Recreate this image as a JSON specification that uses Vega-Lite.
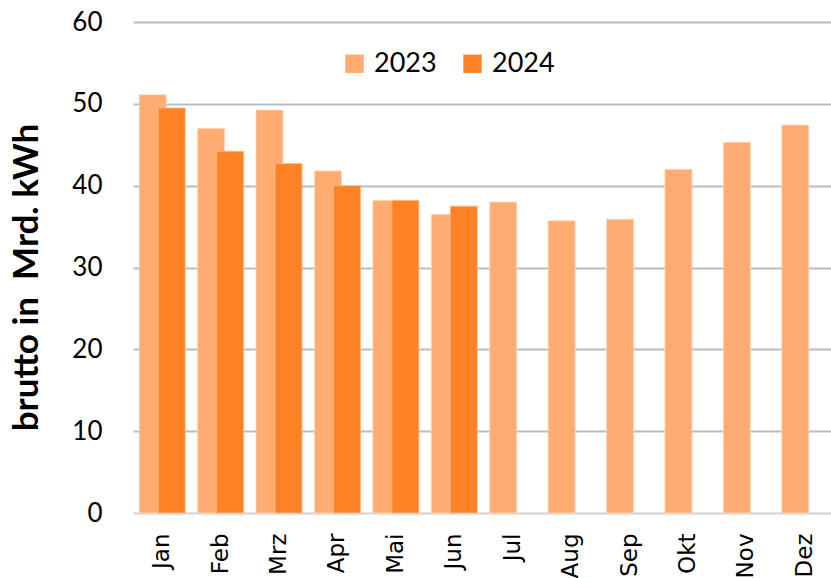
{
  "$schema": "https://vega.github.io/schema/vega-lite/v6.json",
  "width": 701,
  "height": 491,
  "autosize": {"type": "none"},
  "padding": {"left": 133, "top": 22, "right": 0, "bottom": 65},
  "background": "white",
  "data": {
    "values": [
      {"Monat": "Jan", "Jahr": "2023", "Wert": 51.1},
      {"Monat": "Feb", "Jahr": "2023", "Wert": 47.0},
      {"Monat": "Mrz", "Jahr": "2023", "Wert": 49.25},
      {"Monat": "Apr", "Jahr": "2023", "Wert": 41.8},
      {"Monat": "Mai", "Jahr": "2023", "Wert": 38.2},
      {"Monat": "Jun", "Jahr": "2023", "Wert": 36.5},
      {"Monat": "Jul", "Jahr": "2023", "Wert": 38.0},
      {"Monat": "Aug", "Jahr": "2023", "Wert": 35.7},
      {"Monat": "Sep", "Jahr": "2023", "Wert": 35.9},
      {"Monat": "Okt", "Jahr": "2023", "Wert": 42.0},
      {"Monat": "Nov", "Jahr": "2023", "Wert": 45.3},
      {"Monat": "Dez", "Jahr": "2023", "Wert": 47.4},
      {"Monat": "Jan", "Jahr": "2024", "Wert": 49.5},
      {"Monat": "Feb", "Jahr": "2024", "Wert": 44.2},
      {"Monat": "Mrz", "Jahr": "2024", "Wert": 42.7},
      {"Monat": "Apr", "Jahr": "2024", "Wert": 40.0},
      {"Monat": "Mai", "Jahr": "2024", "Wert": 38.2},
      {"Monat": "Jun", "Jahr": "2024", "Wert": 37.5}
    ]
  },
  "encoding": {
    "x": {
      "field": "Monat",
      "type": "nominal",
      "sort": ["Jan", "Feb", "Mrz", "Apr", "Mai", "Jun", "Jul", "Aug", "Sep", "Okt", "Nov", "Dez"],
      "scale": {"paddingInner": 0, "paddingOuter": 0},
      "axis": {
        "title": null,
        "domain": true,
        "domainColor": "#d9d9d9",
        "domainWidth": 2,
        "ticks": false,
        "labelAngle": -90,
        "labelAlign": "right",
        "labelBaseline": "middle",
        "labelFont": "DejaVu Sans",
        "labelFontSize": 23,
        "labelColor": "black",
        "labelPadding": 20
      }
    },
    "y": {
      "field": "Wert",
      "type": "quantitative",
      "scale": {"domain": [0, 60], "nice": false},
      "axis": {
        "values": [0, 10, 20, 30, 40, 50, 60],
        "grid": true,
        "gridColor": {"condition": {"test": "datum.value === 0", "value": "#d9d9d9"}, "value": "#b4bec8"},
        "gridWidth": 1.8,
        "domain": false,
        "ticks": false,
        "labelFont": "Lato",
        "labelFontSize": 26,
        "labelColor": "black",
        "labelPadding": 31,
        "title": "brutto in\u00a0 Mrd. kWh",
        "titleFont": "Lato",
        "titleFontWeight": "bold",
        "titleFontSize": 35,
        "titleColor": "black",
        "titleAngle": -90,
        "titleAlign": "center",
        "titleBaseline": "middle",
        "titleX": -107,
        "titleY": 255
      }
    },
    "color": {
      "field": "Jahr",
      "type": "nominal",
      "scale": {"domain": ["2023", "2024"], "range": ["#FFAC73", "#FF8326"]},
      "legend": {
        "title": null,
        "orient": "none",
        "direction": "horizontal",
        "legendX": 208,
        "legendY": 28,
        "symbolType": "square",
        "symbolSize": 340,
        "symbolStrokeWidth": 0,
        "symbolOpacity": 1,
        "labelFont": "Lato",
        "labelFontSize": 27,
        "labelColor": "black",
        "labelOffset": 6,
        "columnPadding": 22
      }
    }
  },
  "layer": [
    {
      "transform": [{"filter": "datum.Jahr === '2023'"}],
      "mark": {"type": "bar", "width": 27, "xOffset": -9.5, "opacity": 1, "stroke": "#ffd6b8", "strokeWidth": 0.8}
    },
    {
      "transform": [{"filter": "datum.Jahr === '2024'"}],
      "mark": {"type": "bar", "width": 27, "xOffset": 9.5, "opacity": 1, "stroke": "#ffb880", "strokeWidth": 0.8}
    }
  ],
  "config": {"view": {"stroke": null}}
}
